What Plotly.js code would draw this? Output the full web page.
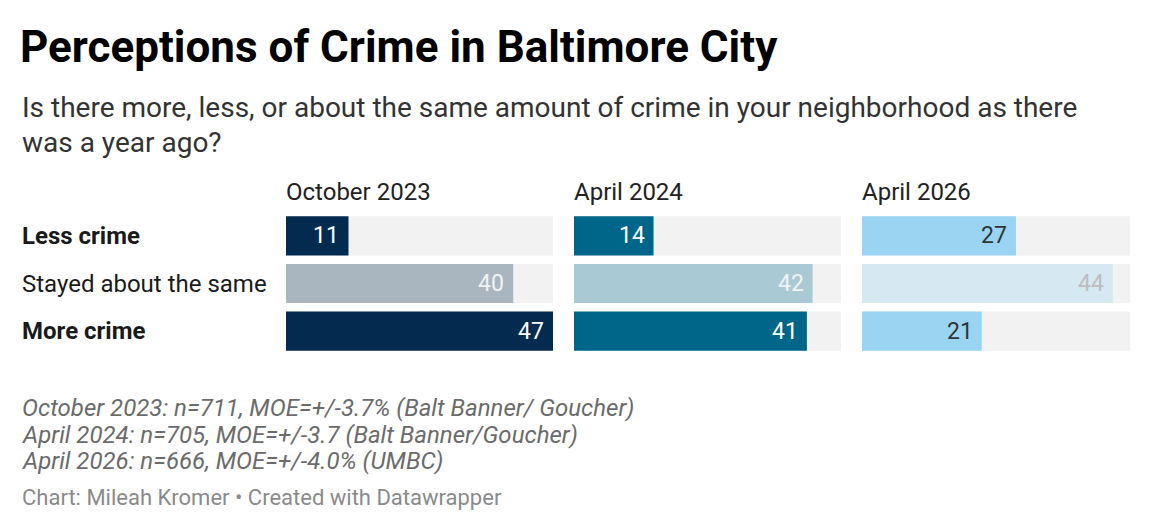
<!DOCTYPE html>
<html>
<head>
<meta charset="utf-8">
<script src="https://cdn.plot.ly/plotly-3.0.1.min.js"></script>
<style>
  html, body { margin: 0; padding: 0; background: #fff; }
  #plot { width: 1152px; height: 532px; }
</style>
</head>
<body>
<div id="plot"></div>
<script>
'use strict';

// survey answers, top to bottom
const categories = ['Less crime', 'Stayed about the same', 'More crime'];
const boldRows = [true, false, true];

const waves = ['October 2023', 'April 2024', 'April 2026'];
const oct2023 = [11, 40, 47];
const apr2024 = [14, 42, 41];
const apr2026 = [27, 44, 21];
const scaleMax = 47;

const barColors = [
  ['#032b4f', '#a9b6c0', '#032b4f'],
  ['#006689', '#a9cad4', '#006689'],
  ['#99d5f2', '#d6e9f3', '#99d5f2']
];
const labelColors = [
  ['#ffffff', '#f2f2f2', '#ffffff'],
  ['#ffffff', '#f2f2f2', '#ffffff'],
  ['#333333', '#bdbdbd', '#333333']
];

const subtitleLines = [
  'Is there more, less, or about the same amount of crime in your neighborhood as there',
  'was a year ago?'
];
const notes = [
  'October 2023: n=711, MOE=+/-3.7% (Balt Banner/ Goucher)',
  'April 2024: n=705, MOE=+/-3.7 (Balt Banner/Goucher)',
  'April 2026: n=666, MOE=+/-4.0% (UMBC)'
];

const W = 1152, H = 532;
const px = function (x) { return x / W; };
const py = function (y) { return 1 - y / H; };

const series = [oct2023, apr2024, apr2026];
const domains = [[286, 553], [574, 841], [862, 1130]];

var traces = [];
var annotations = [];
var layout = {
  width: W,
  height: H,
  paper_bgcolor: '#FFFFFF',
  plot_bgcolor: '#FFFFFF',
  showlegend: false,
  barmode: 'overlay',
  margin: {l: 0, r: 0, t: 0, b: 0},
  font: {family: 'Roboto, sans-serif', color: '#333'},
  title: {
    text: '<b>Perceptions of Crime in Baltimore City</b>',
    x: px(20), xanchor: 'left', xref: 'paper',
    y: py(47), yanchor: 'middle', yref: 'paper',
    font: {size: 44, color: '#000'}
  },
  yaxis: {
    domain: [py(355), py(212)],
    type: 'category',
    categoryorder: 'array',
    categoryarray: categories,
    autorange: 'reversed',
    showticklabels: false,
    showgrid: false,
    zeroline: false,
    fixedrange: true
  }
};

series.forEach(function (values, i) {
  const ax = i === 0 ? '' : String(i + 1);
  const xName = 'x' + ax;

  // grey full-width track behind each bar
  traces.push({
    type: 'bar',
    orientation: 'h',
    y: categories,
    x: categories.map(function () { return scaleMax; }),
    xaxis: xName,
    yaxis: 'y',
    width: 0.82,
    marker: {color: '#f2f2f2'},
    hoverinfo: 'skip'
  });
  traces.push({
    type: 'bar',
    orientation: 'h',
    y: categories,
    x: values,
    xaxis: xName,
    yaxis: 'y',
    width: 0.82,
    marker: {color: barColors[i]},
    hoverinfo: 'x'
  });

  layout['xaxis' + ax] = {
    domain: [px(domains[i][0]), px(domains[i][1])],
    range: [0, scaleMax],
    anchor: 'y',
    showticklabels: false,
    showgrid: false,
    zeroline: false,
    fixedrange: true
  };

  // column header
  annotations.push({
    text: waves[i],
    xref: 'paper', yref: 'paper',
    x: px(domains[i][0] - 2), y: py(192),
    xanchor: 'left', yanchor: 'middle',
    showarrow: false,
    font: {size: 24, color: '#222'}
  });

  // value labels at the end of each bar
  values.forEach(function (v, j) {
    annotations.push({
      text: String(v),
      xref: xName, yref: 'y',
      x: v, y: categories[j],
      xanchor: 'right', yanchor: 'middle',
      xshift: -7,
      showarrow: false,
      font: {size: 23, color: labelColors[i][j]}
    });
  });
});

// row labels on the left
categories.forEach(function (c, j) {
  annotations.push({
    text: boldRows[j] ? '<b>' + c + '</b>' : c,
    xref: 'paper', yref: 'y',
    x: px(20), y: c,
    xanchor: 'left', yanchor: 'middle',
    showarrow: false,
    font: {size: 24, color: '#1a1a1a'}
  });
});

// subtitle
subtitleLines.forEach(function (s, k) {
  annotations.push({
    text: s,
    xref: 'paper', yref: 'paper',
    x: px(20), y: py(108 + k * 34),
    xanchor: 'left', yanchor: 'middle',
    showarrow: false,
    font: {size: 28, color: '#333'}
  });
});

// notes
notes.forEach(function (n, k) {
  annotations.push({
    text: '<i>' + n + '</i>',
    xref: 'paper', yref: 'paper',
    x: px(20), y: py(408 + k * 26.5),
    xanchor: 'left', yanchor: 'middle',
    showarrow: false,
    font: {size: 24, color: '#6b6b6b'}
  });
});

annotations.push({
  text: 'Chart: Mileah Kromer \u2022 Created with Datawrapper',
  xref: 'paper', yref: 'paper',
  x: px(20), y: py(497),
  xanchor: 'left', yanchor: 'middle',
  showarrow: false,
  font: {size: 22, color: '#8a8a8a'}
});

layout.annotations = annotations;

var config = {
  responsive: false,
  displayModeBar: false
};

Plotly.newPlot('plot', traces, layout, config);
</script>
</body>
</html>
